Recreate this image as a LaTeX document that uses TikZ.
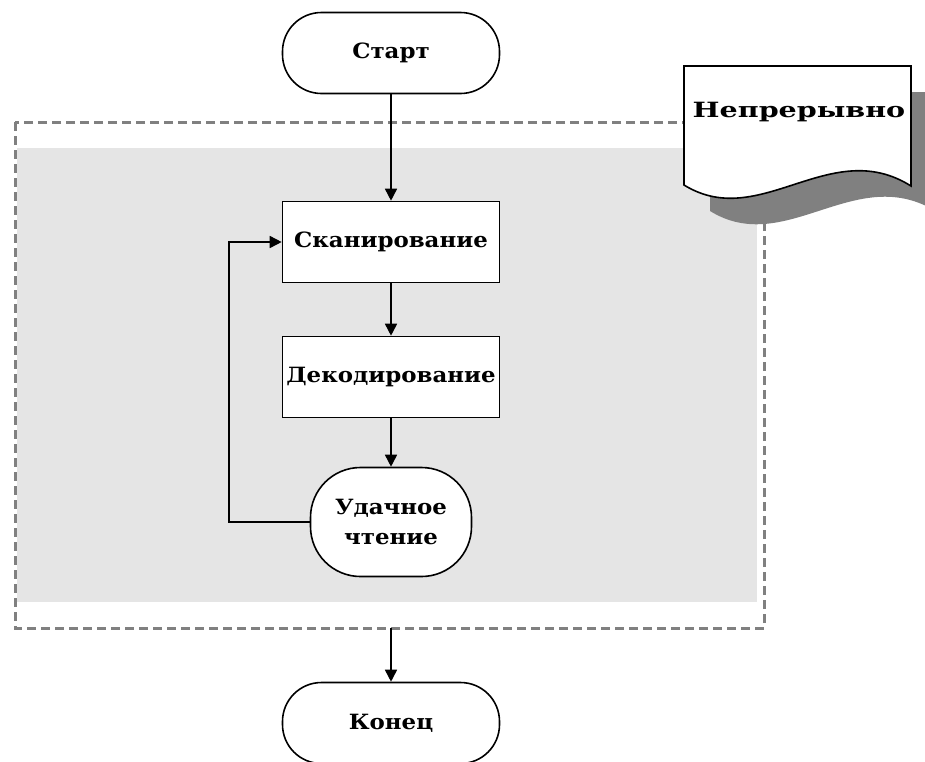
\documentclass[tikz,border=0pt]{standalone}
\usepackage{fontspec}
\newfontfamily\flowfont{DejaVu Serif}[FakeStretch=1.09]
\newfontfamily\notefont{DejaVu Serif}[FakeStretch=1.36]
\usetikzlibrary{arrows.meta}

\begin{document}
\begin{tikzpicture}[x=1pt, y=-1pt,
  every node/.style={font=\flowfont\bfseries\fontsize{21}{30}\selectfont},
  term/.style={draw, fill=white, line width=1.6pt, rounded corners=39pt, minimum width=217pt, minimum height=81pt, inner sep=0pt},
  proc/.style={draw, fill=white, line width=1.6pt, minimum width=217pt, minimum height=81pt, inner sep=0pt},
  check/.style={draw, fill=white, line width=1.6pt, rounded corners=50pt, minimum width=161pt, minimum height=109pt, inner sep=0pt, align=center},
  flow/.style={line width=1.6pt, -{Triangle[length=12pt,width=12pt]}}]
\useasboundingbox (0,0) rectangle (925,761);
\fill[white] (0,0) rectangle (925,761);
\fill[black!10] (17,148) rectangle (757,602);
\draw[black!50, line width=3pt, dash pattern=on 9pt off 5pt] (15,122) rectangle (764,628);
\fill[black!50] (710,92) -- (937,92) -- (937,212) .. controls (856,161) and (786,258) .. (710,211) -- cycle;
\filldraw[fill=white, draw=black, line width=1.6pt] (684,66) -- (911,66) -- (911,186) .. controls (830,135) and (760,232) .. (684,185) -- cycle;
\node[font=\notefont\bfseries\fontsize{21}{30}\selectfont, anchor=base] (note) at (799,117) {Непрерывно};
\node[term] (start) at (391,53) {Старт};
\node[proc] (scan) at (391,242) {Сканирование};
\node[proc] (decode) at (391,377) {Декодирование};
\node[check] (good) at (391,522) {Удачное\\чтение};
\node[term] (finish) at (391,723) {Конец};
\coordinate (boxout) at (391,628);
\coordinate (loop) at (229,522);
\draw[flow] (start) -- (scan);
\draw[flow] (scan) -- (decode);
\draw[flow] (decode) -- (good);
\draw[flow] (good.west) -- (loop) |- (scan.west);
\draw[flow] (boxout) -- (finish);
\end{tikzpicture}
\end{document}
